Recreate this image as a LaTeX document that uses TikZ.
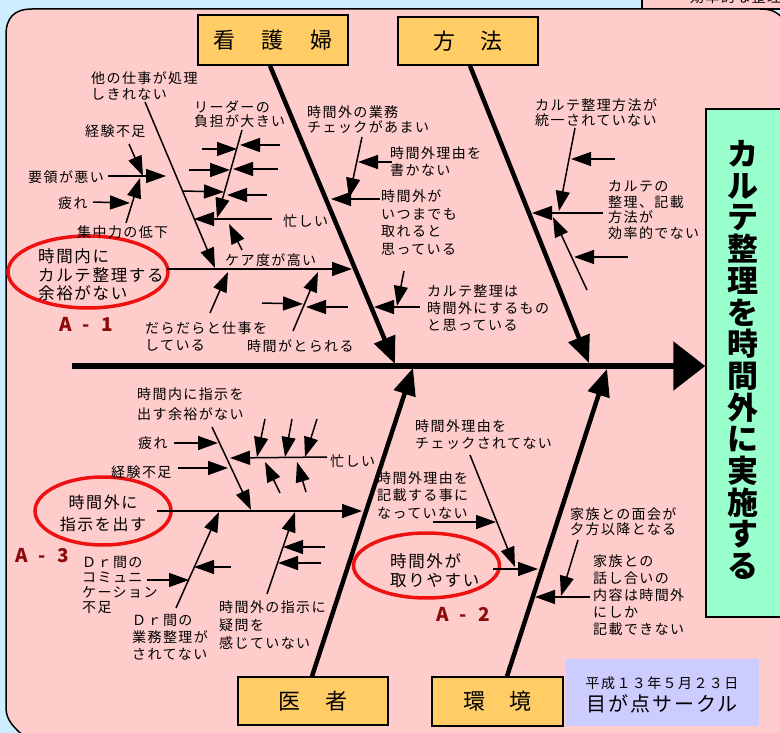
\documentclass[tikz,border=0pt]{standalone}
\usepackage{fontspec}
\usetikzlibrary{arrows.meta}
\setmainfont{Noto Sans CJK JP}
\newfontfamily\jp{Noto Sans CJK JP}[LetterSpace=10]
\newfontfamily\jpn{Noto Sans CJK JP}
\definecolor{bgblue}{HTML}{CCEEFF}
\definecolor{panelpink}{HTML}{FFCCCC}
\definecolor{catorange}{HTML}{FFCC66}
\definecolor{mint}{HTML}{99FFCC}
\definecolor{lav}{HTML}{CCCCFF}
\definecolor{ellred}{HTML}{EE1111}
\definecolor{adark}{HTML}{8B0A0A}
\tikzset{
  lab/.style={font=\jp\fontsize{14}{16}\selectfont, align=left, inner sep=0pt, anchor=north west, yshift=6.5pt},
  sa/.style={line width=1.5pt, -{Triangle[length=20pt,width=14pt]}},
  bone/.style={line width=4.5pt, -{Triangle[length=27pt,width=22pt]}},
  cat/.style={draw=black, line width=1.5pt, fill=catorange, inner sep=0pt, font=\jpn\fontsize{22}{22}\selectfont},
  ell/.style={draw=ellred, line width=3.5pt},
  alab/.style={font=\jpn\bfseries\fontsize{19}{19}\selectfont, text=adark, inner sep=0pt},
}
\begin{document}
\begin{tikzpicture}[x=1pt,y=-1pt]
\useasboundingbox (0,0) rectangle (780,733);
\begin{scope}
\clip (0,0) rectangle (780,733);
\fill[bgblue] (0,0) rectangle (780,733);
\draw[line width=1.2pt, fill=panelpink] (642,-10) rectangle (800,9);
\node[font=\jp\fontsize{14}{16}\selectfont, inner sep=0pt, anchor=west] (backtxt) at (690,-3) {効率的な整理};
\draw[line width=1.5pt, fill=panelpink] (50,760) -- (26,738) .. controls (14,728) and (6,720) .. (6,708) -- (6,35) .. controls (6,18) and (14,9) .. (32,9) -- (760,9) .. controls (772,9) and (778,12) .. (786,22) -- (786,760) -- cycle;
\end{scope}

% category boxes
\node[cat, minimum width=150pt, minimum height=50pt] (kango) at (273,40) {看\hspace{27pt}護\hspace{27pt}婦};
\node[cat, minimum width=140pt, minimum height=48pt] (houhou) at (468,41) {方\hspace{25pt}法};
\node[cat, minimum width=150pt, minimum height=48pt] (isha) at (313,701) {医\hspace{25pt}者};
\node[cat, minimum width=131pt, minimum height=49pt] (kankyo) at (497.5,701.5) {環\hspace{25pt}境};

% title box
\node[draw=black, line width=1.5pt, fill=mint, minimum width=84pt, minimum height=508pt, inner sep=0pt] (titlebox) at (748,363) {};
\node[font=\jpn\bfseries\fontsize{31}{31.7}\selectfont, align=center, inner sep=0pt] (title) at (743,360) {カ\\ル\\テ\\整\\理\\を\\時\\間\\外\\に\\実\\施\\す\\る};

% date box
\node[fill=lav, minimum width=193pt, minimum height=67pt, inner sep=0pt] (datebox) at (662.5,692.5) {};
\node[font=\jp\fontsize{14}{14}\selectfont, inner sep=0pt] (date) at (662,683) {平成１３年５月２３日};
\node[font=\jp\fontsize{20}{20}\selectfont, inner sep=0pt] (circle) at (662,704) {目が点サークル};

% spine and bones
\coordinate (spineL) at (72,366);
\draw[line width=6pt, -{Triangle[length=32pt,width=48pt]}] (spineL) -- (titlebox.west |- spineL);
\draw[bone] ([xshift=-3pt]kango.south) -- (395,364) coordinate (kt);
\draw[bone] ([xshift=2pt]houhou.south) -- (589,363) coordinate (ht);
\draw[bone] ([xshift=-1pt]isha.north) -- (413,368) coordinate (it);
\draw[bone] ([xshift=9.5pt]kankyo.north) -- (607,369) coordinate (et);

% ---------- upper left ----------
\draw[ell] (88,272) ellipse [x radius=80pt, y radius=36pt];
\node[lab, font=\jp\fontsize{16.5}{18.5}\selectfont] (e1) at (38,255) {時間内に\\カルテ整理する\\余裕がない};
\node[alab] (a1) at (86,324) {A\hspace{11pt}-\hspace{11pt}1};
\draw[sa] (167,269) -- (352,269);
\node[lab] (t1) at (91,78) {他の仕事が処理\\しきれない};
\draw[sa] (145,102) -- (215,268);
\node[lab] (t8) at (225,260) {ケア度が高い};
\node[lab] (t3) at (85,131) {経験不足};
\draw[sa] (129,144) -- (143,176);
\node[lab] (t4) at (28,177) {要領が悪い};
\draw[sa] (108,176) -- (166,176);
\node[lab] (t5) at (58,203) {疲れ};
\draw[sa] (93,202) -- (130,203);
\node[lab] (t6) at (77,232) {集中力の低下};
\draw[sa] (126,223) -- (140,178);
\node[lab] (t7) at (283,221) {忙しい};
\draw[sa] (272,219) -- (194,219);
\node[lab, font=\jp\fontsize{14}{13.5}\selectfont] (t2) at (194,107) {リーダーの\\負担が大きい};
\draw[sa] (242,130) -- (217,218);
\draw[sa] (202,149) -- (237,149);
\draw[sa] (280,145) -- (240,145);
\draw[sa] (189,170) -- (230,170);
\draw[sa] (278,169) -- (233,169);
\draw[sa] (183,191) -- (224,192);
\draw[sa] (267,195) -- (227,195);
\draw[sa] (242,250) -- (229,224);
\node[lab, font=\jp\fontsize{14}{17}\selectfont] (t10) at (145,328) {だらだらと仕事を\\している};
\draw[sa] (210,313) -- (228,272);
\node[lab] (t11) at (247,346) {時間がとられる};
\draw[sa] (293,331) -- (318,272);
\draw[sa] (262,303) -- (303,304);
\draw[sa] (348,307) -- (306,307);
\node[lab, font=\jp\fontsize{14}{15}\selectfont] (t12) at (307,112) {時間外の業務\\チェックがあまい};
\draw[sa] (362,137) -- (349,198);
\node[lab, font=\jp\fontsize{14}{17}\selectfont] (t13) at (390,153) {時間外理由を\\書かない};
\draw[sa] (392,162) -- (358,162);
\node[lab, font=\jp\fontsize{14}{17.7}\selectfont] (t14) at (381,196) {時間外が\\いつまでも\\取れると\\思っている};
\draw[sa] (380,199) -- (331,199);
\node[lab, font=\jp\fontsize{14}{17}\selectfont] (t15) at (427,291) {カルテ整理は\\時間外にするもの\\と思っている};
\draw[sa] (420,307) -- (374,307);
\draw[sa] (404,271) -- (397,306);

% ---------- upper right ----------
\node[lab, font=\jp\fontsize{14}{15}\selectfont] (t16) at (535,105) {カルテ整理方法が\\統一されていない};
\node[lab, font=\jp\fontsize{14}{15.5}\selectfont] (t17) at (608,187) {カルテの\\整理、記載\\方法が\\効率的でない};
\draw[sa] (603,213) -- (532,213);
\draw[sa] (575,128) -- (559,211);
\draw[sa] (615,159) -- (571,159);
\draw[sa] (587,290) -- (553,217);
\draw[sa] (628,257) -- (574,257);

% ---------- lower left ----------
\draw[ell] (103,511) ellipse [x radius=68pt, y radius=34pt];
\node[font=\jp\fontsize{16}{22}\selectfont, align=center, inner sep=0pt] (e2) at (103,513) {時間外に\\指示を出す};
\node[alab] (a3) at (42,556) {A\hspace{11pt}-\hspace{11pt}3};
\draw[sa] (157,511) -- (362,511);
\node[lab, font=\jp\fontsize{14}{20}\selectfont] (t18) at (137,394) {時間内に指示を\\出す余裕がない};
\draw[sa] (212,427) -- (251,510);
\node[lab] (t19) at (138,443) {疲れ};
\draw[sa] (174,443) -- (218,443);
\node[lab] (t20) at (111,472) {経験不足};
\draw[sa] (178,468) -- (228,468);
\node[lab] (t21) at (330,461) {忙しい};
\draw[sa] (327,457) -- (230,458);
\draw[sa] (265,419) -- (257,457);
\draw[sa] (292,419) -- (285,457);
\draw[sa] (317,419) -- (305,457);
\draw[sa] (280,493) -- (265,462);
\draw[sa] (306,492) -- (297,462);
\node[lab, font=\jp\fontsize{14}{15}\selectfont] (t23) at (82,563) {Ｄｒ間の\\コミュニ\\ケーション\\不足};
\node[lab, font=\jp\fontsize{14}{17}\selectfont] (t24) at (132,621) {Ｄｒ間の\\業務整理が\\されてない};
\draw[sa] (176,608) -- (219,512);
\draw[sa] (147,580) -- (189,580);
\draw[sa] (231,567) -- (194,567);
\node[lab, font=\jp\fontsize{14}{18}\selectfont] (t25) at (219,607) {時間外の指示に\\疑問を\\感じていない};
\draw[sa] (267,594) -- (295,512);
\draw[sa] (325,547) -- (283,547);
\draw[sa] (321,563) -- (278,563);

% ---------- lower right ----------
\draw[ell] (426.5,565.5) ellipse [x radius=73pt, y radius=32.5pt];
\node[lab, font=\jp\fontsize{16.5}{19}\selectfont] (e3) at (390,560) {時間外が\\取りやすい};
\node[alab] (a2) at (463,614) {A\hspace{11pt}-\hspace{11pt}2};
\draw[sa] (493,569) -- (538,569);
\node[lab, font=\jp\fontsize{14}{17}\selectfont] (t26) at (415,426) {時間外理由を\\チェックされてない};
\draw[sa] (470,455) -- (515,567);
\node[lab, font=\jp\fontsize{14}{17.5}\selectfont] (t27) at (377,478) {時間外理由を\\記載する事に\\なっていない};
\draw[sa] (433,522) -- (496,522);
\node[lab, font=\jp\fontsize{14}{15}\selectfont] (t29) at (570,514) {家族との面会が\\夕方以降となる};
\node[lab, font=\jp\fontsize{14}{17}\selectfont] (t30) at (593,561) {家族との\\話し合いの\\内容は時間外\\にしか\\記載できない};
\draw[sa] (590,597) -- (535,597);
\draw[sa] (578,540) -- (561,596);
\end{tikzpicture}
\end{document}
